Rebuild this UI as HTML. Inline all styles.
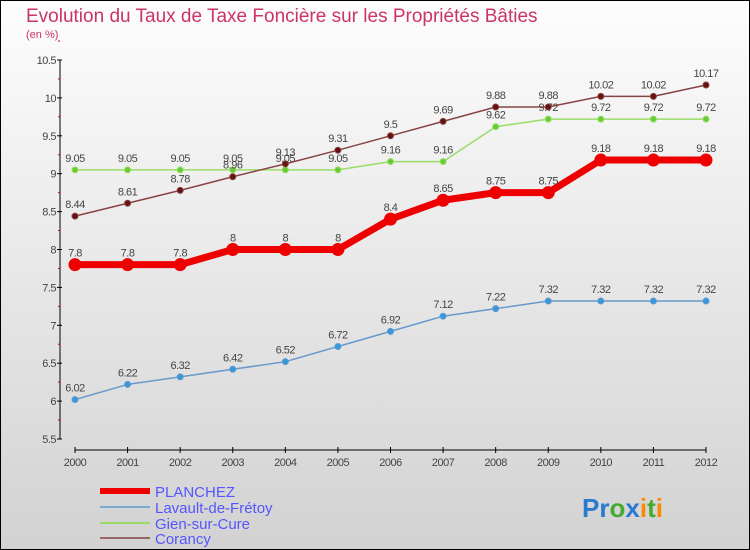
<!DOCTYPE html>
<html><head><meta charset="utf-8"><style>
body{margin:0}
svg{display:block;font-family:"Liberation Sans",sans-serif}
</style></head><body>
<svg width="750" height="550" xmlns="http://www.w3.org/2000/svg">
<defs><linearGradient id="bg" x1="0" y1="0" x2="0" y2="1"><stop offset="0" stop-color="#fdfdfd"/><stop offset="1" stop-color="#d2d2d2"/></linearGradient></defs>
<rect x="0.5" y="0.5" width="749" height="549" fill="url(#bg)" stroke="#000"/>
<text x="26" y="22" font-size="19" fill="#cc3366">Evolution du Taux de Taxe Foncière sur les Propriétés Bâties</text>
<text x="26" y="38" font-size="11" fill="#cc3366">(en %)</text>
<g id="axes"></g>
<g id="series"></g>
<g id="legend">
<line x1="100" y1="491" x2="150" y2="491" stroke="#ee0000" stroke-width="6"/>
<text x="155" y="497" font-size="15" fill="#5555ff">PLANCHEZ</text>
<line x1="100" y1="507" x2="150" y2="507" stroke="#7aaad0" stroke-width="2"/>
<text x="155" y="513" font-size="15" fill="#5555ff">Lavault-de-Frétoy</text>
<line x1="100" y1="523" x2="150" y2="523" stroke="#99dd66" stroke-width="2"/>
<text x="155" y="529" font-size="15" fill="#5555ff">Gien-sur-Cure</text>
<line x1="100" y1="538" x2="150" y2="538" stroke="#996666" stroke-width="2"/>
<text x="155" y="544" font-size="15" fill="#5555ff">Corancy</text>
</g>
<g font-size="26" font-weight="bold">
<text x="582" y="517"><tspan fill="#2a7ad0">Pr</tspan><tspan fill="#44aa33">o</tspan><tspan fill="#2a7ad0">x</tspan><tspan fill="#ff8800">i</tspan><tspan fill="#44aa33">t</tspan><tspan fill="#ff8800">i</tspan></text>
</g>
</svg>
<script>
const years=[2000,2001,2002,2003,2004,2005,2006,2007,2008,2009,2010,2011,2012];
const yTicks=[5.5,6,6.5,7,7.5,8,8.5,9,9.5,10,10.5];
const planchez=[7.8,7.8,7.8,8,8,8,8.4,8.65,8.75,8.75,9.18,9.18,9.18];
const lavault=[6.02,6.22,6.32,6.42,6.52,6.72,6.92,7.12,7.22,7.32,7.32,7.32,7.32];
const gien=[9.05,9.05,9.05,9.05,9.05,9.05,9.16,9.16,9.62,9.72,9.72,9.72,9.72];
const corancy=[8.44,8.61,8.78,8.96,9.13,9.31,9.5,9.69,9.88,9.88,10.02,10.02,10.17];
const NS='http://www.w3.org/2000/svg';
const X=i=>75+i*(706-75)/(years.length-1);
const Y=v=>439-(v-5.5)*(439-60)/5;
function mk(tag,attrs,parent){const e=document.createElementNS(NS,tag);for(const k in attrs)e.setAttribute(k,attrs[k]);parent.appendChild(e);return e;}
const ax=document.getElementById('axes');
let a=mk('line',{x1:60,y1:Y(10.5),x2:60,y2:Y(5.5),stroke:'#000'},ax);


yTicks.forEach(v=>{
  mk('line',{x1:57,y1:Y(v),x2:62,y2:Y(v),stroke:'#000'},ax);
  mk('line',{x1:58,y1:Y(v+0.25),x2:60,y2:Y(v+0.25),stroke:'#d00'},ax);
  const t=mk('text',{x:56,y:Y(v)+4,'text-anchor':'end','font-size':11,fill:'#444','letter-spacing':'-0.5'},ax);
  t.textContent=v;
  
  
});
let b=mk('line',{x1:75,y1:450,x2:706,y2:450,stroke:'#000'},ax);


years.forEach((yr,i)=>{
  mk('line',{x1:X(i),y1:447,x2:X(i),y2:453,stroke:'#000'},ax);
  const t=mk('text',{x:X(i),y:466,'text-anchor':'middle','font-size':11,fill:'#444','letter-spacing':'-0.5'},ax);
  t.textContent=yr;
  
  
});
const sg=document.getElementById('series');
function series(vals,name,color,w,r,dot){
  const g=mk('g',{},sg);
  
  
  mk('polyline',{points:vals.map((v,i)=>X(i)+','+Y(v)).join(' '),fill:'none',stroke:color,'stroke-width':w,'stroke-linejoin':'round'},g);
  vals.forEach((v,i)=>{
    const c=mk('circle',{cx:X(i),cy:Y(v),r:r,fill:dot,stroke:color,'stroke-width':1},g);
    
    
    const t=mk('text',{x:X(i),y:Y(v)-8,'text-anchor':'middle','font-size':11,fill:'#444','letter-spacing':'-0.5'},g);
    t.textContent=v;
    
    
  });
}
series(lavault,'lavault','#6699cc',1.5,3,'#3399dd');
series(gien,'gien','#99dd66',1.5,3,'#66cc33');
series(corancy,'corancy','#884444',1.5,3,'#661111');
series(planchez,'planchez','#ee0000',7,6,'#ee0000');
</script>
</body></html>
